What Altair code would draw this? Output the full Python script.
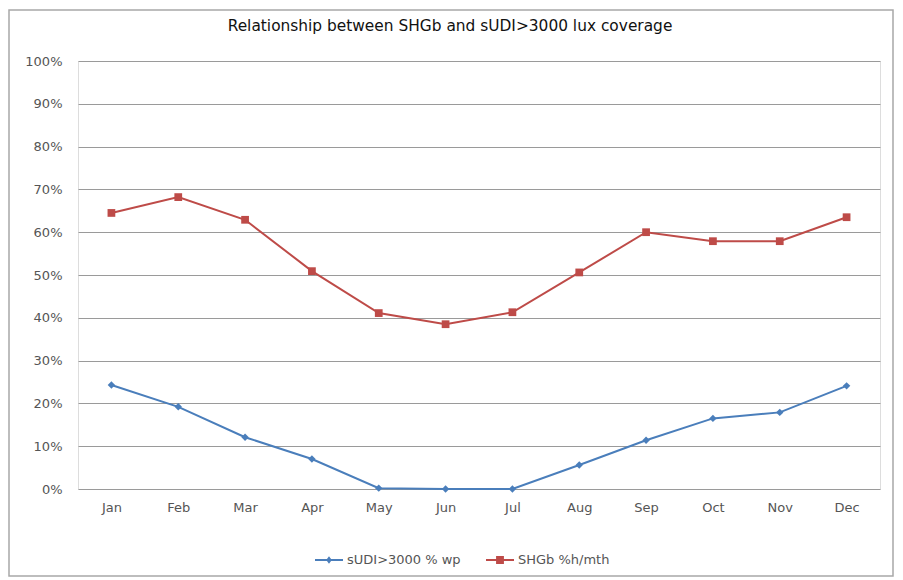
import altair as alt
import pandas as pd

months = ["Jan", "Feb", "Mar", "Apr", "May", "Jun", "Jul", "Aug", "Sep", "Oct", "Nov", "Dec"]
sudi = [0.243, 0.192, 0.121, 0.070, 0.002, 0.0, 0.0, 0.056, 0.114, 0.165, 0.179, 0.241]
shgb = [0.645, 0.682, 0.629, 0.509, 0.411, 0.385, 0.413, 0.506, 0.600, 0.579, 0.579, 0.635]
series_names = ["sUDI>3000 % wp", "SHGb %h/mth"]
colors = ["#4A7EBB", "#BE4B48"]

rows = []
for m, v in zip(months, sudi):
    rows.append({"month": m, "value": v, "series": series_names[0]})
for m, v in zip(months, shgb):
    rows.append({"month": m, "value": v, "series": series_names[1]})
df = pd.DataFrame(rows)

FONT = "DejaVu Sans"

x_enc = alt.X("month:N", sort=months, title=None,
              axis=alt.Axis(labelAngle=0, ticks=False, domain=False, labelPadding=12,
                            labelFontSize=13, labelColor="#555", labelFont=FONT))
y_enc = alt.Y("value:Q", title=None, scale=alt.Scale(domain=[0, 1], nice=False),
              axis=alt.Axis(format=".0%", values=[i / 10 for i in range(11)], ticks=False,
                            domain=False, grid=True, gridColor="#9a9a9a", gridWidth=1,
                            labelPadding=16, labelFontSize=13, labelColor="#555", labelFont=FONT))


def cscale():
    return alt.Scale(domain=series_names, range=colors)


base = alt.Chart(df)

lines = base.mark_line(strokeWidth=2).encode(
    x=x_enc, y=y_enc,
    color=alt.Color("series:N", scale=cscale(), legend=None),
    detail="series:N",
)

pts_sudi = base.transform_filter(alt.datum.series == series_names[0]).mark_point(
    shape="diamond", filled=True, size=55, opacity=1
).encode(x=x_enc, y=y_enc, color=alt.Color("series:N", scale=cscale(), legend=None))

pts_shgb = base.transform_filter(alt.datum.series == series_names[1]).mark_point(
    shape="square", filled=True, size=60, opacity=1
).encode(x=x_enc, y=y_enc, color=alt.Color("series:N", scale=cscale(), legend=None))

# legend symbols: a thin filled bar (the line) plus the marker
diamond_path = "M-1,-0.07H1V0.07H-1Z M0,-0.26L0.2,0L0,0.26L-0.2,0Z"
square_path = "M-1,-0.07H1V0.07H-1Z M-0.28,-0.28H0.28V0.28H-0.28Z"

leg = alt.Legend(title=None, orient="none", direction="horizontal",
                 legendX=237, legendY=485, symbolSize=784, symbolStrokeWidth=0,
                 symbolOpacity=1,
                 labelFontSize=13, labelColor="#555", labelFont=FONT,
                 columnPadding=25, labelOffset=4)

legend_layer = base.transform_filter("false").mark_point(
    filled=True, opacity=1, size=784
).encode(
    x=x_enc, y=y_enc,
    color=alt.Color("series:N", scale=cscale(), legend=leg),
    shape=alt.Shape("series:N", scale=alt.Scale(domain=series_names, range=[diamond_path, square_path]),
                    legend=leg),
)

frame = alt.Chart(pd.DataFrame({"a": [0]})).mark_rect(fill=None, stroke="#a8a8a8", strokeWidth=1.5).encode(
    x=alt.value(-69), x2=alt.value(815), y=alt.value(-51), y2=alt.value(515)
)

chart = alt.layer(frame, lines, pts_sudi, pts_shgb, legend_layer).properties(
    width=802, height=428,
    title=alt.TitleParams("Relationship between SHGb and sUDI>3000 lux coverage",
                          anchor="middle", frame="group", dx=-29, offset=-25,
                          fontSize=15.4, fontWeight="normal", font=FONT, color="#111"),
    autosize=alt.AutoSizeParams(type="none"),
    padding={"left": 70, "top": 53, "right": 15, "bottom": 90},
).resolve_scale(color="independent", shape="independent").configure_view(
    stroke="#8a8a8a", strokeWidth=1.5
).configure(background="white")

chart.save("out.html", embed_options={"renderer": "svg", "actions": False})
